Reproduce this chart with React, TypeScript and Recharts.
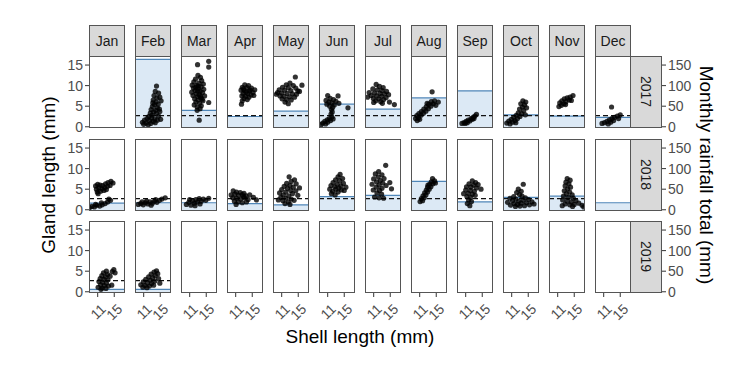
import { ComposedChart, Scatter, XAxis, YAxis, ReferenceArea, ReferenceLine } from 'recharts'

type Pt = [number, number]

const months = ['Jan', 'Feb', 'Mar', 'Apr', 'May', 'Jun', 'Jul', 'Aug', 'Sep', 'Oct', 'Nov', 'Dec']
const years = ['2017', '2018', '2019']

// monthly rainfall total (mm), null = no record
const rain2017 = [null, 164, 40, 25, 38, 55, 43, 70, 87, 29, 26, 23]
const rain2018 = [16, 17, 17, 15, 12, 32, 35, 69, 19, 30, 33, 17]
const rain2019 = [6, 6, null, null, null, null, null, null, null, null, null, null]

// dashed reference gland length (mm)
const glandThreshold = 2.7

const shellTicks = [11, 15]
const glandTicks = [0, 5, 10, 15]
const rainTicks = [0, 50, 100, 150]

// [shell length, gland length] per month
const points2017: Pt[][] = [
  [],
  [[14.1, 9.9], [13.8, 8.6], [14.6, 8.2], [13.5, 7.6], [14.9, 7.2], [14.2, 7.0], [13.3, 6.5], [15.2, 6.3], [14.0, 6.0], [13.6, 5.4], [14.5, 5.5], [13.1, 4.9], [14.3, 4.6], [12.8, 4.2], [13.9, 4.0], [14.8, 4.3], [13.4, 3.6], [12.6, 3.3], [14.1, 3.2], [13.0, 2.8], [12.2, 2.5], [14.6, 2.6], [11.8, 2.0], [12.9, 2.1], [13.7, 1.9], [11.2, 1.6], [12.4, 1.5], [13.3, 1.3], [14.3, 1.6], [10.7, 1.1], [11.6, 0.9], [12.7, 0.8], [13.8, 1.0], [11.0, 0.6], [12.1, 0.5], [15.1, 1.8], [14.9, 3.7], [13.2, 5.8]],
  [[12.9, 15.1], [15.6, 15.9], [15.6, 14.5], [13.3, 1.6], [12.8, 4.0], [15.6, 5.9], [13.0, 12.5], [13.6, 12.0], [12.4, 11.6], [13.9, 11.2], [12.0, 10.9], [13.2, 10.6], [14.3, 10.4], [11.6, 10.1], [12.7, 10.0], [13.8, 9.7], [11.9, 9.4], [13.1, 9.2], [14.4, 9.1], [12.3, 8.8], [13.5, 8.6], [11.5, 8.4], [14.1, 8.3], [12.6, 8.0], [13.3, 7.8], [11.8, 7.6], [14.6, 7.5], [12.9, 7.3], [13.7, 7.0], [12.2, 6.8], [13.0, 6.5], [14.2, 6.3], [12.5, 6.0], [13.4, 5.7], [12.1, 5.3], [13.8, 5.1], [12.8, 4.8], [13.5, 4.4], [13.1, 9.9], [12.5, 9.6], [13.6, 7.4], [12.9, 8.7], [14.0, 6.7]],
  [[13.2, 10.2], [14.1, 10.0], [12.6, 9.6], [13.7, 9.5], [14.8, 9.4], [15.6, 9.0], [12.3, 8.9], [13.1, 8.8], [14.3, 8.7], [15.2, 8.3], [12.8, 8.1], [13.9, 8.0], [14.7, 7.7], [12.5, 7.5], [13.4, 7.4], [14.2, 7.2], [15.4, 7.6], [13.0, 6.9], [13.8, 6.6], [12.6, 6.3], [12.4, 5.5], [13.5, 8.4], [14.5, 8.9], [12.9, 9.2]],
  [[14.3, 12.1], [15.9, 10.1], [13.0, 10.6], [12.1, 10.2], [13.8, 10.0], [11.2, 9.6], [12.6, 9.5], [14.4, 9.4], [10.4, 9.0], [11.7, 8.9], [13.2, 8.8], [14.9, 8.7], [10.0, 8.3], [11.0, 8.2], [12.3, 8.1], [13.6, 8.0], [14.6, 7.9], [10.6, 7.5], [11.6, 7.4], [12.9, 7.3], [14.1, 7.2], [11.1, 6.8], [12.2, 6.6], [13.3, 6.5], [11.8, 6.0], [12.6, 5.6], [15.3, 8.6], [9.7, 7.9]],
  [[11.0, 7.6], [13.5, 7.5], [11.6, 6.9], [12.4, 6.6], [10.6, 6.4], [13.0, 6.2], [11.3, 6.0], [12.0, 5.8], [13.7, 5.7], [10.8, 5.5], [12.6, 5.3], [11.5, 5.0], [12.2, 4.7], [15.9, 4.6], [11.9, 4.2], [12.1, 3.6], [11.8, 3.1], [12.0, 2.4], [11.4, 2.0], [10.9, 1.7], [11.7, 1.5], [10.3, 1.3], [11.0, 1.1], [9.8, 0.9], [10.5, 0.7], [9.4, 0.5], [12.3, 1.9]],
  [[11.6, 10.3], [12.4, 9.8], [13.3, 9.5], [10.8, 9.2], [11.9, 9.0], [13.0, 8.8], [14.1, 8.6], [9.9, 8.3], [11.2, 8.2], [12.5, 8.1], [13.6, 8.0], [14.6, 7.8], [10.4, 7.6], [11.7, 7.5], [12.9, 7.4], [9.5, 7.2], [14.0, 7.1], [10.9, 6.9], [12.2, 6.8], [13.4, 6.6], [11.5, 6.3], [12.7, 6.1], [14.8, 6.0], [11.0, 5.9], [16.0, 5.4], [13.1, 5.7]],
  [[14.0, 8.5], [15.5, 6.0], [14.6, 6.3], [13.8, 6.1], [14.3, 5.6], [13.2, 5.5], [13.7, 5.0], [12.6, 4.9], [13.1, 4.4], [12.0, 4.3], [12.5, 3.8], [11.4, 3.7], [11.9, 3.3], [10.8, 3.2], [11.3, 2.8], [10.3, 2.7], [10.7, 2.2], [10.0, 2.0], [11.0, 1.8], [10.4, 1.5], [12.8, 5.7], [14.9, 5.2]],
  [[10.1, 0.8], [10.6, 1.0], [11.1, 1.3], [10.9, 0.8], [11.6, 1.6], [12.0, 1.4], [12.3, 2.0], [12.8, 2.3], [13.2, 2.6], [13.6, 3.0], [12.6, 1.8], [11.4, 1.0], [13.0, 2.0]],
  [[13.7, 6.3], [14.4, 6.0], [13.2, 5.6], [14.1, 5.3], [13.6, 4.8], [14.6, 4.6], [12.9, 4.3], [13.9, 3.9], [12.6, 3.4], [13.4, 3.2], [12.1, 2.8], [13.0, 2.5], [11.5, 2.3], [12.4, 2.0], [10.9, 1.8], [11.8, 1.5], [10.3, 1.4], [11.2, 1.1], [9.8, 0.9], [10.6, 0.7], [14.3, 2.9], [12.0, 1.0]],
  [[14.7, 7.6], [14.0, 7.2], [13.3, 7.0], [12.6, 6.8], [13.8, 6.5], [12.0, 6.3], [13.0, 6.1], [14.3, 6.4], [11.5, 5.8], [12.5, 5.6], [11.9, 5.2], [12.9, 5.4], [11.3, 4.9]],
  [[12.9, 4.8], [15.0, 2.9], [14.3, 2.6], [13.6, 2.3], [14.6, 2.0], [13.0, 2.0], [12.4, 1.7], [13.4, 1.5], [11.8, 1.3], [12.7, 1.1], [11.2, 1.0], [10.6, 0.8], [12.1, 0.7]],
]

const points2018: Pt[][] = [
  [[10.5, 5.8], [11.0, 6.2], [11.6, 6.0], [12.2, 5.9], [12.9, 6.3], [13.5, 6.6], [14.2, 6.9], [14.7, 6.5], [10.7, 5.0], [11.3, 5.3], [12.0, 5.1], [12.7, 5.4], [13.4, 5.7], [14.0, 5.9], [10.9, 4.3], [11.7, 4.5], [12.5, 4.7], [13.1, 4.9], [11.1, 3.9], [9.0, 0.5], [9.6, 0.8], [10.2, 0.7], [10.8, 1.1], [11.5, 0.9], [12.1, 1.2], [12.8, 1.5], [13.4, 1.9], [14.1, 2.3], [13.7, 2.6], [11.9, 1.7], [10.5, 1.3]],
  [[9.7, 1.3], [10.3, 1.5], [10.9, 1.2], [11.4, 1.7], [12.0, 1.4], [12.5, 1.9], [13.1, 1.6], [13.6, 2.1], [14.2, 1.8], [14.8, 2.3], [15.4, 2.6], [16.2, 2.9], [11.7, 2.1], [12.8, 1.1], [13.9, 2.5], [10.6, 1.9]],
  [[10.2, 1.3], [10.8, 1.8], [11.3, 1.1], [11.7, 2.2], [12.1, 1.6], [12.5, 2.5], [12.9, 1.9], [13.3, 2.7], [13.8, 2.1], [14.3, 2.6], [14.9, 2.3], [15.6, 2.8], [11.0, 2.5], [12.3, 1.0], [13.5, 1.4]],
  [[10.4, 4.6], [11.2, 4.3], [12.1, 4.2], [13.0, 4.0], [9.9, 3.6], [10.8, 3.8], [11.7, 3.5], [12.6, 3.7], [13.5, 3.4], [14.4, 3.6], [10.3, 2.9], [11.2, 2.8], [12.2, 2.6], [13.1, 2.9], [14.0, 2.5], [15.3, 3.0], [10.7, 2.1], [11.6, 1.9], [12.6, 1.7], [13.6, 1.9], [11.1, 1.3], [12.9, 3.2], [16.0, 2.4]],
  [[12.8, 8.0], [14.1, 7.3], [13.3, 6.9], [12.2, 6.4], [14.5, 6.3], [13.0, 5.9], [11.6, 5.7], [13.8, 5.5], [12.4, 5.2], [15.3, 5.3], [11.0, 4.9], [13.2, 4.7], [14.4, 4.6], [12.0, 4.3], [10.5, 4.1], [13.6, 3.9], [11.4, 3.6], [12.7, 3.4], [14.9, 3.5], [10.8, 3.0], [12.0, 2.8], [13.3, 2.6], [11.3, 2.2], [12.6, 1.9], [14.0, 2.3], [10.2, 2.4], [11.8, 1.5], [13.0, 1.3]],
  [[14.0, 8.6], [13.5, 8.0], [14.6, 7.6], [12.9, 7.3], [13.9, 7.0], [12.3, 6.6], [14.8, 6.4], [13.3, 6.2], [11.8, 5.9], [14.2, 5.8], [12.7, 5.6], [15.4, 5.5], [11.5, 5.0], [13.0, 5.0], [14.3, 4.8], [12.2, 4.5], [13.5, 4.3], [11.9, 3.9], [12.8, 3.6], [15.0, 4.7], [13.7, 5.3]],
  [[13.9, 10.8], [12.2, 9.3], [11.4, 8.7], [13.0, 8.5], [12.1, 8.0], [11.0, 7.5], [13.5, 7.6], [12.6, 7.1], [14.9, 6.6], [11.7, 6.8], [13.2, 6.5], [10.6, 6.2], [12.3, 6.0], [14.0, 5.9], [11.6, 5.5], [13.0, 5.2], [12.4, 4.7], [11.8, 4.1], [12.9, 3.8], [11.2, 3.1], [12.3, 2.9], [13.4, 2.8], [15.3, 5.1], [10.9, 4.8]],
  [[14.1, 7.6], [14.6, 7.0], [13.8, 6.8], [14.2, 6.3], [13.4, 6.2], [13.7, 5.6], [12.9, 5.5], [13.3, 5.0], [12.6, 4.8], [12.9, 4.3], [12.2, 4.1], [12.5, 3.6], [11.8, 3.4], [12.1, 2.9], [11.4, 2.7], [11.7, 2.2], [11.1, 2.0], [13.0, 6.0], [14.8, 6.5]],
  [[12.6, 7.0], [13.4, 6.6], [11.8, 6.3], [12.9, 6.0], [14.0, 6.1], [11.2, 5.6], [12.3, 5.5], [13.6, 5.3], [14.7, 5.0], [11.0, 4.8], [12.1, 4.7], [13.1, 4.5], [11.6, 4.0], [12.6, 3.8], [10.5, 3.9], [11.3, 3.2], [12.2, 3.0], [11.7, 2.4], [12.4, 2.0], [11.4, 1.5], [12.0, 1.0], [13.3, 3.5]],
  [[13.8, 6.2], [12.6, 5.0], [13.3, 4.5], [12.2, 4.2], [12.9, 3.7], [11.5, 3.2], [13.5, 3.3], [10.6, 2.8], [12.0, 2.6], [14.3, 2.9], [11.2, 2.2], [12.7, 2.1], [13.8, 2.3], [15.1, 2.5], [10.0, 1.8], [11.6, 1.5], [12.4, 1.3], [13.3, 1.6], [14.6, 1.7], [15.9, 1.9], [10.7, 1.1], [11.9, 0.8], [13.0, 0.9], [14.1, 1.0], [15.3, 1.2], [16.4, 1.4]],
  [[13.3, 7.6], [14.0, 7.2], [13.0, 6.7], [13.7, 6.3], [12.8, 5.8], [14.1, 5.5], [13.4, 5.1], [12.6, 4.6], [13.9, 4.3], [13.1, 3.9], [14.5, 3.6], [12.4, 3.3], [13.6, 3.0], [14.8, 2.8], [12.2, 2.4], [13.3, 2.1], [14.3, 1.9], [15.4, 2.2], [12.8, 1.4], [13.9, 1.2], [15.0, 1.3], [16.1, 1.6], [16.9, 1.1], [17.3, 0.7], [14.6, 0.8], [12.1, 1.0]],
  [],
]

const points2019: Pt[][] = [
  [[14.9, 5.4], [14.5, 4.9], [15.2, 4.6], [13.1, 5.0], [12.4, 4.6], [13.4, 4.2], [12.0, 3.9], [12.9, 3.6], [14.0, 3.8], [11.6, 3.2], [12.5, 3.0], [13.5, 2.9], [11.3, 2.5], [12.2, 2.3], [13.1, 2.1], [11.7, 1.7], [12.6, 1.5], [13.6, 1.4], [11.1, 1.1], [12.1, 0.9], [13.0, 0.8], [14.4, 1.6], [11.8, 0.6]],
  [[14.1, 5.1], [13.5, 4.8], [14.4, 4.4], [12.8, 4.3], [13.8, 3.9], [12.2, 3.6], [13.2, 3.4], [14.6, 3.2], [11.5, 3.0], [12.6, 2.8], [13.7, 2.6], [10.9, 2.4], [11.9, 2.2], [12.9, 2.0], [10.3, 1.7], [11.3, 1.5], [12.4, 1.4], [13.4, 1.6], [10.8, 1.1], [11.8, 1.0], [14.9, 2.1]],
  [], [], [], [], [], [], [], [], [], [],
]

const rainByYear = [rain2017, rain2018, rain2019]
const pointsByYear = [points2017, points2018, points2019]

const FONT = '"Liberation Sans", Arial, Helvetica, sans-serif'
const X_MIN = 8.9
const X_MAX = 17.6
const Y_MIN = -0.3
const Y_MAX = 17.2
const PANEL_X0 = 89
const COL_STEP = 46
const PANEL_W = 36
const PANEL_H = 72
const ROW_TOPS = [56, 139, 221]
const STRIP_TOP = 25
const STRIP_H = 31
const YEAR_STRIP_W = 31
const PAD = 10 // room around a panel so edge tick labels are not clipped
const BORDER = '#555'

const RainTick = (props: any) => {
  const { x, y, payload } = props
  return (
    <g>
      <line x1={x + YEAR_STRIP_W} x2={x + YEAR_STRIP_W + 4} y1={y} y2={y} stroke="#333" />
      <text x={x + YEAR_STRIP_W + 6} y={y} dy="0.355em" fill="#4d4d4d" fontSize={14}>
        {payload.value}
      </text>
    </g>
  )
}

const ShellTick = (props: any) => {
  const { x, y, payload } = props
  const ax = x + 9
  const ay = y + 13
  return (
    <text x={ax} y={ay} textAnchor="end" transform={`rotate(-45 ${ax} ${ay})`} fill="#4d4d4d" fontSize={14}>
      {payload.value}
    </text>
  )
}

function Panel({ row, col }: { row: number; col: number }) {
  const pts = pointsByYear[row][col].map(([x, y]) => ({ x, y }))
  const rain = rainByYear[row][col]
  const isLeft = col === 0
  const isRight = col === 11
  const isBottom = row === 2
  const leftW = isLeft ? 40 : 0
  const padLeft = isLeft ? 0 : PAD
  const rightW = isRight ? 80 : 0
  const bottomH = isBottom ? 40 : 0
  const padBottom = isBottom ? 0 : PAD
  const offsetX = leftW + padLeft
  const width = offsetX + PANEL_W + rightW
  const height = PAD + PANEL_H + bottomH + padBottom

  return (
    <div style={{ position: 'absolute', left: PANEL_X0 + col * COL_STEP - offsetX, top: ROW_TOPS[row] - PAD, width, height }}>
      <ComposedChart width={width} height={height} margin={{ top: PAD, right: 0, bottom: padBottom, left: padLeft }}>
        <XAxis
          type="number"
          dataKey="x"
          domain={[X_MIN, X_MAX]}
          ticks={shellTicks}
          hide={!isBottom}
          height={bottomH}
          axisLine={false}
          tickSize={4}
          tickMargin={0}
          tickLine={{ stroke: '#333' }}
          tick={<ShellTick />}
          interval={0}
          allowDataOverflow
        />
        <YAxis
          yAxisId="g"
          type="number"
          dataKey="y"
          domain={[Y_MIN, Y_MAX]}
          ticks={glandTicks}
          hide={!isLeft}
          width={leftW}
          axisLine={false}
          tickSize={4}
          tickMargin={2}
          tickLine={{ stroke: '#333' }}
          tick={{ fill: '#4d4d4d', fontSize: 14 }}
          interval={0}
          allowDataOverflow
        />
        {isRight && (
          <YAxis
            yAxisId="r"
            orientation="right"
            type="number"
            domain={[Y_MIN * 10, Y_MAX * 10]}
            ticks={rainTicks}
            width={rightW}
            axisLine={false}
            tickLine={false}
            tickSize={0}
            tickMargin={0}
            tick={<RainTick />}
            interval={0}
            allowDataOverflow
          />
        )}
        {rain != null && (
          <ReferenceArea yAxisId="g" y1={Y_MIN} y2={rain / 10} fill="#dce9f5" fillOpacity={1} stroke="none" />
        )}
        {rain != null && <ReferenceLine yAxisId="g" y={rain / 10} stroke="#4f86b8" strokeWidth={1.2} />}
        {pts.length > 0 && (
          <ReferenceLine yAxisId="g" y={glandThreshold} stroke="#111" strokeWidth={1.4} strokeDasharray="5 3" />
        )}
        <Scatter
          yAxisId="g"
          data={pts}
          isAnimationActive={false}
          shape={(p: any) => <circle cx={p.cx} cy={p.cy} r={2.6} fill="#000" fillOpacity={0.8} />}
        />
      </ComposedChart>
      <div
        style={{
          position: 'absolute',
          left: offsetX,
          top: PAD,
          width: PANEL_W,
          height: PANEL_H,
          border: `1px solid ${BORDER}`,
          boxSizing: 'border-box',
          pointerEvents: 'none',
        }}
      />
    </div>
  )
}

export default function App() {
  return (
    <div style={{ position: 'absolute', left: 0, top: 0, width: 756, height: 369, background: '#fff', fontFamily: FONT, color: '#1a1a1a' }}>
      <svg width={756} height={369} style={{ position: 'absolute', left: 0, top: 0 }}>
        <text x={55} y={175} transform="rotate(-90 55 175)" textAnchor="middle" fontSize={19} fill="#000">
          Gland length (mm)
        </text>
        <text x={700} y={175} transform="rotate(90 700 175)" textAnchor="middle" fontSize={19} fill="#000">
          Monthly rainfall total (mm)
        </text>
        <text x={360} y={343} textAnchor="middle" fontSize={19} fill="#000">
          Shell length (mm)
        </text>
      </svg>
      {months.map((m, i) => (
        <div
          key={m}
          style={{
            position: 'absolute',
            left: PANEL_X0 + i * COL_STEP,
            top: STRIP_TOP,
            width: PANEL_W,
            height: STRIP_H + 1,
            background: '#d9d9d9',
            border: `1px solid ${BORDER}`,
            boxSizing: 'border-box',
            display: 'flex',
            alignItems: 'center',
            justifyContent: 'center',
            fontSize: 14,
          }}
        >
          {m}
        </div>
      ))}
      {years.map((y, r) => (
        <div
          key={y}
          style={{
            position: 'absolute',
            left: PANEL_X0 + 11 * COL_STEP + PANEL_W - 1,
            top: ROW_TOPS[r],
            width: YEAR_STRIP_W + 1,
            height: PANEL_H,
            background: '#d9d9d9',
            border: `1px solid ${BORDER}`,
            boxSizing: 'border-box',
            display: 'flex',
            alignItems: 'center',
            justifyContent: 'center',
            fontSize: 14,
            writingMode: 'vertical-rl',
          }}
        >
          {y}
        </div>
      ))}
      {years.map((y, r) => months.map((m, c) => <Panel key={`${y}-${m}`} row={r} col={c} />))}
    </div>
  )
}
